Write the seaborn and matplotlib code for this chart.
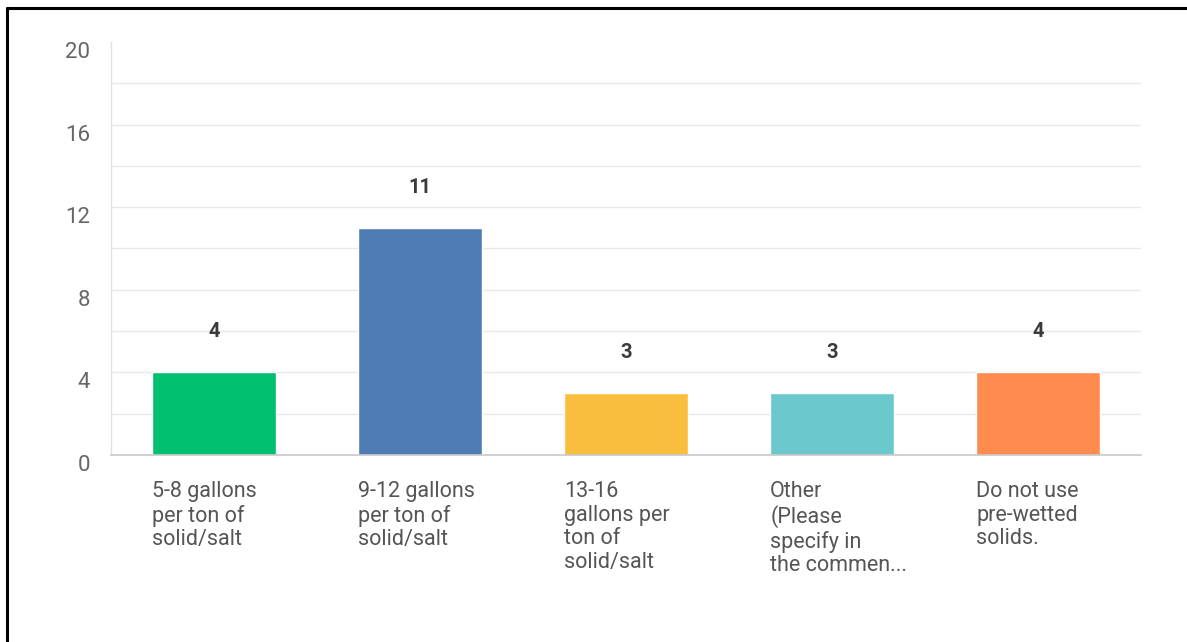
import matplotlib
matplotlib.use("Agg")
import matplotlib.pyplot as plt
import seaborn as sns
import pandas as pd
from matplotlib.lines import Line2D

# data
categories = [
    "5-8 gallons\nper ton of\nsolid/salt",
    "9-12 gallons\nper ton of\nsolid/salt",
    "13-16\ngallons per\nton of\nsolid/salt",
    "Other\n(Please\nspecify in\nthe commen...",
    "Do not use\npre-wetted\nsolids.",
]
counts = [4, 11, 3, 3, 4]
colors = ["#00BF6F", "#507CB6", "#F9BE3E", "#6BC8CD", "#FF8B4F"]
y_ticks = [0, 4, 8, 12, 16, 20]

df = pd.DataFrame({"category": categories, "count": counts})

sns.set_style("white")
plt.rcParams["font.family"] = ["Roboto", "DejaVu Sans"]

fig = plt.figure(figsize=(11.87, 6.42), dpi=100)
ax = fig.add_axes([111 / 1187, 1 - 455 / 642, 1030 / 1187, 413 / 642])

sns.barplot(data=df, x="category", y="count", hue="category", palette=colors,
            legend=False, width=0.6, saturation=1, ax=ax)

ax.set_xlim(-0.5, 4.5)
ax.set_ylim(0, 20)

# gridlines every 2
for v in range(2, 20, 2):
    ax.axhline(v, color="#e8e8e8", linewidth=1, zorder=0)
ax.set_axisbelow(True)

ax.set_yticks(y_ticks)
ax.set_yticklabels([str(t) for t in y_ticks], fontsize=16, color="#666666", va="top")
ax.tick_params(axis="y", length=0, pad=15)
ax.tick_params(axis="x", length=0)
ax.set_xticks([])
ax.set_xlabel("")
ax.set_ylabel("")

for s in ["top", "right"]:
    ax.spines[s].set_visible(False)
ax.spines["left"].set_color("#e0e0e0")
ax.spines["bottom"].set_color("#c8c8c8")
ax.spines["left"].set_linewidth(1)
ax.spines["bottom"].set_linewidth(1.2)

# value labels and category labels
for i, (cat, val) in enumerate(zip(categories, counts)):
    ax.text(i, val + 1.5, str(val), ha="center", va="bottom", fontsize=14.5,
            fontweight="bold", color="#3a3a3a")
    ax.text(i - 0.3, -1.25, cat, ha="left", va="top", fontsize=15.5,
            color="#555555", linespacing=1.17)

# figure border on left and top
fig.add_artist(Line2D([7 / 1187, 7 / 1187], [0, 1 - 8 / 642], color="black",
                      linewidth=2.2, transform=fig.transFigure))
fig.add_artist(Line2D([7 / 1187, 1], [1 - 8 / 642, 1 - 8 / 642], color="black",
                      linewidth=2.2, transform=fig.transFigure))

fig.savefig("out.png", dpi=100)
